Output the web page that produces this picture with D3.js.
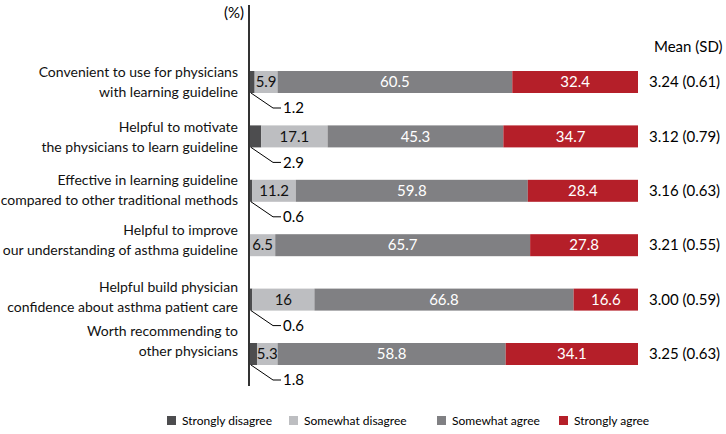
<!DOCTYPE html>
<html><head><meta charset="utf-8">
<script src="https://cdn.jsdelivr.net/npm/d3@7"></script>
<style>body{margin:0;background:#fff}svg{display:block;font-family:Lato,"Open Sans",sans-serif}</style>
</head><body><svg id="c" width="726" height="434"></svg>
<script>
const categories = [
  ["Convenient to use for physicians","with learning guideline"],
  ["Helpful to motivate","the physicians to learn guideline"],
  ["Effective in learning guideline","compared to other traditional methods"],
  ["Helpful to improve","our understanding of asthma guideline"],
  ["Helpful build physician","confidence about asthma patient care"],
  ["Worth recommending to","other physicians"]
];
const seriesNames = ["Strongly disagree","Somewhat disagree","Somewhat agree","Strongly agree"];
const stronglyDisagree = [1.2, 2.9, 0.6, 0, 0.6, 1.8];
const somewhatDisagree = [5.9, 17.1, 11.2, 6.5, 16, 5.3];
const somewhatAgree = [60.5, 45.3, 59.8, 65.7, 66.8, 58.8];
const stronglyAgree = [32.4, 34.7, 28.4, 27.8, 16.6, 34.1];
const meanSD = ["3.24 (0.61)","3.12 (0.79)","3.16 (0.63)","3.21 (0.55)","3.00 (0.59)","3.25 (0.63)"];

// styling / layout
const colors = ["#4d4d4f","#bdbec1","#808083","#b51f29"];
const labelColors = ["#000","#111","#fff","#fff"];
const labelNudge = [0, 1, -1, -5, -3, -13];

const svg = d3.select("#c");
const x = d3.scaleLinear().domain([0,100]).range([250,638]);
const keys = categories.map((c,i)=>"r"+i);
const y = d3.scalePoint().domain(keys).range([82,354]);
const bh = 22;

const rows = keys.map((k,i)=>({k, vals:[stronglyDisagree[i],somewhatDisagree[i],somewhatAgree[i],stronglyAgree[i]]}));
const stack = d3.stack().keys([0,1,2,3]).value((d,j)=>d.vals[j])(rows);

stack.forEach((layer,j)=>{
  svg.append("g").selectAll("rect").data(layer).join("rect")
    .attr("x",d=>x(d[0])).attr("width",d=>x(d[1])-x(d[0]))
    .attr("y",d=>y(d.data.k)-bh/2).attr("height",bh)
    .attr("fill",colors[j]);
  if(j>0){
    svg.append("g").selectAll("text").data(layer).join("text")
      .attr("x",d=>(x(d[0])+x(d[1]))/2).attr("y",d=>y(d.data.k))
      .attr("dy","0.35em").attr("text-anchor","middle")
      .attr("font-size",15).attr("fill",labelColors[j])
      .text(d=>d.data.vals[j]);
  }
});

// leader labels for strongly disagree
const lead = svg.append("g");
rows.forEach((r,i)=>{
  const v = stronglyDisagree[i];
  if(!v) return;
  const x0 = x(0)+1, yb = y(r.k)+bh/2;
  lead.append("path").attr("d",`M${x0},${yb}L${x0+22},${yb+15}L${x0+30},${yb+15}`)
    .attr("fill","none").attr("stroke","#000").attr("stroke-width",1);
  lead.append("text").attr("x",x0+32).attr("y",yb+15).attr("dy","0.35em")
    .attr("font-size",15).attr("fill","#000").text(v);
});

// axis line
svg.append("line").attr("x1",249).attr("x2",249).attr("y1",5).attr("y2",386)
  .attr("stroke","#333").attr("stroke-width",2);
svg.append("text").attr("x",244).attr("y",13).attr("dy","0.35em").attr("text-anchor","end")
  .attr("font-size",15).text("(%)");

// category labels
const cl = svg.append("g");
categories.forEach((c,i)=>{
  const t = cl.append("text").attr("text-anchor","end").attr("font-size",14).attr("fill","#111");
  c.forEach((line,li)=>{
    t.append("tspan").attr("x",238).attr("y",y(keys[i])+labelNudge[i]+(li-0.5)*20).attr("dy","0.35em").text(line);
  });
});

// mean column
svg.append("text").attr("x",654).attr("y",47).attr("dy","0.35em").attr("font-size",15).text("Mean (SD)");
svg.append("g").selectAll("text").data(meanSD).join("text")
  .attr("x",649).attr("y",(d,i)=>y(keys[i])).attr("dy","0.35em").attr("font-size",15).text(d=>d);

// legend
const legX = [167,289,437,559];
const lg = svg.append("g");
seriesNames.forEach((n,j)=>{
  lg.append("rect").attr("x",legX[j]).attr("y",416).attr("width",9).attr("height",9).attr("fill",colors[j]);
  lg.append("text").attr("x",legX[j]+15).attr("y",421).attr("dy","0.35em").attr("font-size",12).text(n);
});
</script></body></html>
